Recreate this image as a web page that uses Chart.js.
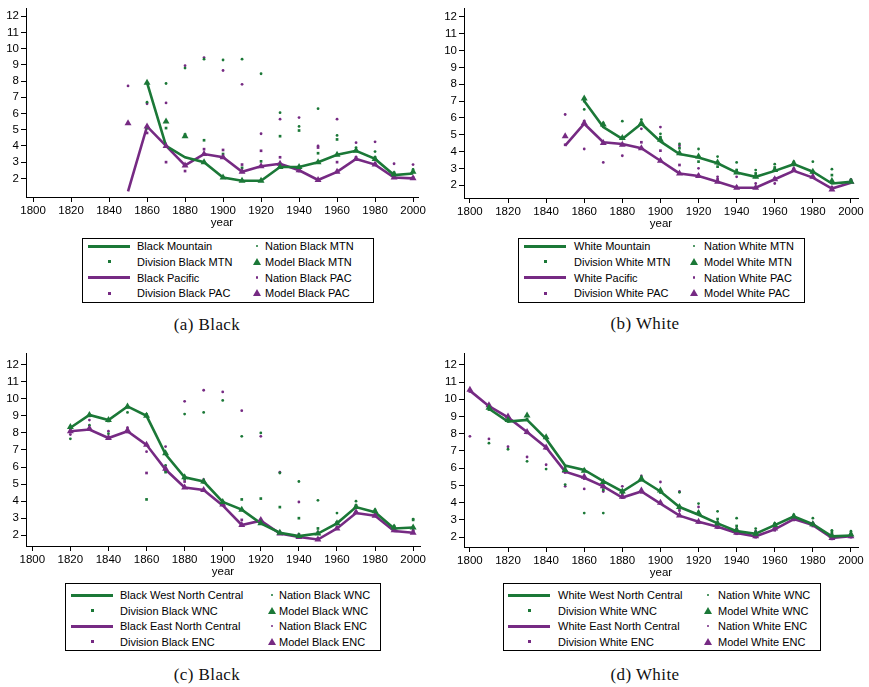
<!DOCTYPE html>
<html>
<head>
<meta charset="utf-8">
<script src="https://cdn.jsdelivr.net/npm/chart.js@4.4.0/dist/chart.umd.min.js"></script>
<style>
body { margin: 0; background: #fff; width: 869px; height: 687px; position: relative; overflow: hidden; font-family: "Liberation Sans", Arial, sans-serif; }
canvas { position: absolute; }
.legend { position: absolute; border: 1px solid #000; box-sizing: border-box; font-size: 11px; color: #000; }
.sym, .txt { position: absolute; }
.txt { white-space: nowrap; line-height: 12px; transform: translateY(-50%); }
.caption { position: absolute; font-family: "Liberation Serif", serif; font-size: 17px; letter-spacing: 0.4px; transform: translate(-50%, -50%); white-space: nowrap; color: #111; }
</style>
</head>
<body>
<script>
const GREEN = '#1b7837';
const PURPLE = '#762a83';
const FONT = '"Liberation Sans", Arial, sans-serif';

const yTicks = [2, 3, 4, 5, 6, 7, 8, 9, 10, 11, 12];
const xTicks = [1800, 1820, 1840, 1860, 1880, 1900, 1920, 1940, 1960, 1980, 2000];

const from1800 = [1800, 1810, 1820, 1830, 1840, 1850, 1860, 1870, 1880, 1890, 1900, 1910, 1920, 1930, 1940, 1950, 1960, 1970, 1980, 1990, 2000];
const from1810 = from1800.slice(1);
const from1820 = from1800.slice(2);
const from1850 = from1800.slice(5);
const from1860 = from1800.slice(6);

// (a) Black, Mountain / Pacific
const aMtnLine = [7.9, 4.0, 3.3, 3.0, 2.05, 1.85, 1.85, 2.7, 2.7, 3.0, 3.45, 3.7, 3.2, 2.2, 2.3];
const aMtnModel = [7.9, 5.5, 4.6, 3.0, 2.05, 1.85, 1.85, 2.7, 2.7, 3.0, 3.45, 3.7, 3.2, 2.25, 2.4];
const aMtnNation = [6.7, 7.85, 8.8, 9.35, 9.3, 9.35, 8.45, 6.05, 5.2, 6.3, 4.65, 3.9, 3.65, 2.3, 2.55];
const aMtnDivision = [5.1, 5.1, 4.7, 4.35, 3.5, 2.65, 3.05, 4.6, 4.95, 3.55, 4.4, 3.75, 3.3, 2.35, 2.4];
const aPacLine = [1.2, 5.2, 4.0, 2.8, 3.5, 3.3, 2.4, 2.75, 2.9, 2.5, 1.9, 2.4, 3.2, 2.85, 2.05, 2.0];
const aPacModel = [5.4, 5.2, 4.0, 2.8, 3.5, 3.3, 2.4, 2.75, 2.9, 2.5, 1.9, 2.4, 3.2, 2.85, 2.05, 2.0];
const aPacNation = [7.7, 6.6, 6.65, 8.95, 9.45, 8.65, 7.8, 4.75, 5.65, 5.75, 4.0, 5.65, 4.2, 4.25, 2.9, 2.85];
const aPacDivision = [4.8, 3.0, 2.45, 3.8, 3.75, 2.85, 3.7, 3.3, 2.45, 3.9, 3.0, 3.3, 2.9, 2.1, 2.05];

// (b) White, Mountain / Pacific
const bMtnLine = [7.0, 5.45, 4.75, 5.65, 4.6, 3.85, 3.65, 3.3, 2.75, 2.5, 2.85, 3.25, 2.8, 2.1, 2.2];
const bMtnModel = [7.15, 5.6, 4.8, 5.7, 4.7, 3.9, 3.7, 3.35, 2.75, 2.5, 2.9, 3.3, 2.8, 2.25, 2.2];
const bMtnNation = [6.5, 5.7, 5.8, 5.9, 5.05, 4.45, 4.15, 3.7, 3.35, 2.9, 3.25, 3.4, 3.4, 2.95, 2.35];
const bMtnDivision = [7.0, 5.5, 4.8, 5.6, 4.85, 4.2, 3.4, 3.1, 2.9, 2.7, 3.05, 3.2, 2.8, 2.6, 2.25];
const bPacLine = [4.35, 5.65, 4.55, 4.45, 4.2, 3.45, 2.7, 2.55, 2.2, 1.85, 1.85, 2.35, 2.85, 2.45, 1.8, 2.15];
const bPacModel = [4.9, 5.7, 4.5, 4.4, 4.2, 3.45, 2.7, 2.55, 2.2, 1.85, 1.85, 2.35, 2.9, 2.5, 1.75, 2.2];
const bPacNation = [6.2, 4.15, 3.35, 3.75, 5.35, 5.45, 4.35, 3.0, 2.5, 2.5, 2.1, 2.1, 3.0, 2.7, 1.9, 2.3];
const bPacDivision = [4.4, 5.8, 4.5, 4.4, 4.55, 4.05, 3.2, 2.6, 2.35, 1.9, 1.85, 2.4, 2.9, 2.5, 1.8, 2.2];

// (c) Black, West North Central / East North Central
const cWncLine = [8.3, 9.05, 8.75, 9.55, 9.0, 6.75, 5.4, 5.15, 3.95, 3.5, 2.7, 2.15, 1.95, 2.1, 2.7, 3.65, 3.35, 2.4, 2.45];
const cWncModel = [8.35, 9.05, 8.75, 9.55, 9.0, 6.8, 5.4, 5.15, 3.95, 3.5, 2.7, 2.15, 1.95, 2.1, 2.7, 3.65, 3.4, 2.45, 2.45];
const cWncNation = [7.65, 8.45, 7.95, 9.2, 9.1, 6.1, 9.1, 9.2, 9.9, 7.8, 8.0, 5.65, 5.15, 4.05, 3.3, 4.0, 3.5, 2.55, 2.95];
const cWncDivision = [8.2, 9.0, 8.7, 9.5, 4.1, 5.7, 5.3, 5.1, 3.9, 4.1, 4.15, 3.65, 3.0, 2.4, 2.75, 3.75, 3.4, 2.45, 2.9];
const cEncLine = [8.1, 8.2, 7.7, 8.1, 7.3, 5.85, 4.8, 4.65, 3.75, 2.6, 2.85, 2.1, 1.9, 1.75, 2.4, 3.3, 3.15, 2.25, 2.15];
const cEncModel = [8.1, 8.25, 7.7, 8.15, 7.3, 5.9, 4.8, 4.65, 3.8, 2.6, 2.9, 2.1, 1.9, 1.75, 2.4, 3.35, 3.15, 2.3, 2.15];
const cEncNation = [7.9, 8.75, 8.1, 8.3, 6.9, 7.2, 9.85, 10.5, 10.4, 9.3, 7.8, 5.7, 3.95, 2.2, 2.75, 3.7, 3.2, 2.4, 2.3];
const cEncDivision = [8.05, 8.2, 7.75, 8.05, 5.65, 5.8, 5.15, 5.25, 3.8, 2.9, 2.9, 2.15, 2.05, 1.8, 2.45, 3.35, 3.2, 2.3, 2.2];

// (d) White, West North Central / East North Central
const dWncLine = [9.45, 8.7, 8.8, 7.7, 6.15, 5.9, 5.25, 4.65, 5.35, 4.65, 3.75, 3.3, 2.8, 2.35, 2.2, 2.7, 3.2, 2.75, 2.05, 2.1];
const dWncModel = [9.5, 8.8, 9.05, 7.8, 5.9, 5.85, 5.2, 4.65, 5.4, 4.7, 3.75, 3.4, 2.8, 2.4, 2.2, 2.7, 3.2, 2.75, 2.1, 2.15];
const dWncNation = [7.45, 7.1, 6.4, 5.95, 5.05, 3.4, 3.4, 4.5, 5.45, 4.6, 4.6, 3.95, 3.5, 3.1, 2.5, 2.8, 3.3, 3.1, 2.4, 2.35];
const dWncDivision = [9.4, 8.75, 8.85, 7.75, 6.1, 5.9, 4.75, 4.6, 5.3, 4.6, 3.7, 3.45, 3.05, 2.65, 2.3, 2.75, 3.2, 2.8, 2.3, 2.2];
const dEncLine = [10.5, 9.6, 8.95, 8.1, 7.2, 5.8, 5.45, 4.95, 4.3, 4.65, 3.95, 3.25, 2.9, 2.6, 2.25, 2.05, 2.45, 3.05, 2.7, 1.95, 2.05];
const dEncModel = [10.55, 9.65, 9.0, 8.1, 7.2, 5.85, 5.5, 4.95, 4.35, 4.7, 4.0, 3.25, 2.9, 2.6, 2.25, 2.05, 2.5, 3.05, 2.75, 1.95, 2.05];
const dEncNation = [7.85, 7.7, 7.25, 6.65, 6.2, 4.95, 4.8, 4.65, 4.95, 5.55, 5.2, 4.65, 3.75, 2.85, 2.5, 2.35, 2.7, 3.1, 2.8, 2.2, 2.2];
const dEncDivision = [10.45, 9.55, 8.9, 8.05, 7.15, 5.75, 5.4, 4.9, 4.3, 4.6, 3.95, 3.55, 2.85, 2.55, 2.2, 2.0, 2.4, 3.0, 2.65, 1.9, 2.0];

const aNames = ['Black Mountain', 'Nation Black MTN', 'Division Black MTN', 'Model Black MTN', 'Black Pacific', 'Nation Black PAC', 'Division Black PAC', 'Model Black PAC'];
const bNames = ['White Mountain', 'Nation White MTN', 'Division White MTN', 'Model White MTN', 'White Pacific', 'Nation White PAC', 'Division White PAC', 'Model White PAC'];
const cNames = ['Black West North Central', 'Nation Black WNC', 'Division Black WNC', 'Model Black WNC', 'Black East North Central', 'Nation Black ENC', 'Division Black ENC', 'Model Black ENC'];
const dNames = ['White West North Central', 'Nation White WNC', 'Division White WNC', 'Model White WNC', 'White East North Central', 'Nation White ENC', 'Division White ENC', 'Model White ENC'];

function pts(years, vals) {
    return vals.map((v, i) => ({ x: years[i], y: v }));
}

function lineSet(years, vals, color) {
    return { data: pts(years, vals), showLine: true, borderColor: color, borderWidth: 2.6, pointRadius: 0, tension: 0, order: 3 };
}

function markSet(years, vals, color, style, radius, order) {
    return { data: pts(years, vals), showLine: false, pointStyle: style, pointRadius: radius,
        backgroundColor: color, borderColor: color, borderWidth: 0, order: order };
}

function group(g, p) {
    return [
        lineSet(g.years, g.line, GREEN),
        markSet(g.years, g.model, GREEN, 'triangle', 4, 1),
        markSet(g.nYears, g.nation, GREEN, 'circle', 1.4, 2),
        markSet(g.dYears, g.division, GREEN, 'rect', 1.9, 2),
        lineSet(p.years, p.line, PURPLE),
        markSet(p.years, p.model, PURPLE, 'triangle', 4, 1),
        markSet(p.nYears, p.nation, PURPLE, 'circle', 1.4, 2),
        markSet(p.dYears, p.division, PURPLE, 'rect', 1.9, 2)
    ];
}

const panels = [
    {
        box: [0, 0, 430, 230], area: [26, 6, 418, 197], x: [1796.3, 2002.6], y: [0.85, 12.45],
        datasets: group(
            { years: from1860, line: aMtnLine, model: aMtnModel, nYears: from1860, nation: aMtnNation, dYears: from1860, division: aMtnDivision },
            { years: from1850, line: aPacLine, model: aPacModel, nYears: from1850, nation: aPacNation, dYears: from1860, division: aPacDivision }),
        names: aNames, caption: '(a) Black', capPos: [207, 325],
        legend: { left: 82, top: 238, w: 292, h: 65, row0: 7, gap: 15.8, s1: [5, 47], t1: 54, s2: 174, t2: 182 }
    },
    {
        box: [435, 0, 434, 231], area: [464, 6, 858, 198], x: [1796.9, 2003.7], y: [1.24, 12.47],
        datasets: group(
            { years: from1860, line: bMtnLine, model: bMtnModel, nYears: from1860, nation: bMtnNation, dYears: from1860, division: bMtnDivision },
            { years: from1850, line: bPacLine, model: bPacModel, nYears: from1850, nation: bPacNation, dYears: from1850, division: bPacDivision }),
        names: bNames, caption: '(b) White', capPos: [645, 324],
        legend: { left: 518, top: 238, w: 287, h: 65, row0: 7, gap: 15.8, s1: [5, 47], t1: 55, s2: 175, t2: 185 }
    },
    {
        box: [0, 345, 430, 234], area: [26, 350, 420, 546], x: [1796.7, 2003.6], y: [1.37, 12.63],
        datasets: group(
            { years: from1820, line: cWncLine, model: cWncModel, nYears: from1820, nation: cWncNation, dYears: from1820, division: cWncDivision },
            { years: from1820, line: cEncLine, model: cEncModel, nYears: from1820, nation: cEncNation, dYears: from1820, division: cEncDivision }),
        names: cNames, caption: '(c) Black', capPos: [207, 675],
        legend: { left: 65, top: 583, w: 316, h: 68, row0: 11, gap: 15.5, s1: [5, 47], t1: 54, s2: 206, t2: 213 }
    },
    {
        box: [435, 345, 434, 235], area: [464, 350, 858, 547], x: [1796.9, 2003.7], y: [1.43, 12.63],
        datasets: group(
            { years: from1810, line: dWncLine, model: dWncModel, nYears: from1810, nation: dWncNation, dYears: from1810, division: dWncDivision },
            { years: from1800, line: dEncLine, model: dEncModel, nYears: from1800, nation: dEncNation, dYears: from1800, division: dEncDivision }),
        names: dNames, caption: '(d) White', capPos: [645, 675],
        legend: { left: 503, top: 583, w: 318, h: 68, row0: 11, gap: 15.5, s1: [4, 46], t1: 54, s2: 204, t2: 214 }
    }
];

function drawPanel(p) {
    const canvas = document.createElement('canvas');
    canvas.width = p.box[2];
    canvas.height = p.box[3];
    canvas.style.left = p.box[0] + 'px';
    canvas.style.top = p.box[1] + 'px';
    document.body.appendChild(canvas);

    const yWidth = p.area[0] - p.box[0];
    const xHeight = p.box[1] + p.box[3] - p.area[3];
    const tickFont = { family: FONT, size: 11.5 };

    new Chart(canvas, {
        type: 'scatter',
        data: { datasets: p.datasets },
        options: {
            responsive: false,
            animation: false,
            events: [],
            layout: { padding: { left: 0, bottom: 0, top: p.area[1] - p.box[1], right: p.box[0] + p.box[2] - p.area[2] } },
            plugins: { legend: { display: false }, tooltip: { enabled: false } },
            scales: {
                x: {
                    type: 'linear', min: p.x[0], max: p.x[1],
                    afterBuildTicks: s => { s.ticks = xTicks.map(v => ({ value: v })); },
                    afterFit: s => { s.height = xHeight; },
                    ticks: { autoSkip: false, maxRotation: 0, color: '#000', font: tickFont, padding: 2, callback: v => String(v) },
                    grid: { drawOnChartArea: false, tickLength: 5, color: '#000' },
                    border: { color: '#000', width: 1 },
                    title: { display: true, text: 'year', color: '#000', font: tickFont, padding: { top: 0, bottom: 0 } }
                },
                y: {
                    type: 'linear', min: p.y[0], max: p.y[1],
                    afterBuildTicks: s => { s.ticks = yTicks.map(v => ({ value: v })); },
                    afterFit: s => { s.width = yWidth; },
                    ticks: { color: '#000', font: tickFont, padding: 2, callback: v => String(v) },
                    grid: { drawOnChartArea: false, tickLength: 5, color: '#000' },
                    border: { color: '#000', width: 1 }
                }
            }
        }
    });

    // legend box
    const L = p.legend;
    const box = document.createElement('div');
    box.className = 'legend';
    Object.assign(box.style, { left: L.left + 'px', top: L.top + 'px', width: L.w + 'px', height: L.h + 'px' });
    document.body.appendChild(box);

    const kinds = ['line', 'circle', 'rect', 'tri'];
    p.names.forEach((name, i) => {
        const color = i < 4 ? GREEN : PURPLE;
        const kind = kinds[i % 4];
        const row = Math.floor(i / 2);
        const col = i % 2;
        const cy = L.row0 + row * L.gap;
        const sym = document.createElement('div');
        sym.className = 'sym';
        const cx = col === 0 ? (L.s1[0] + L.s1[1]) / 2 : L.s2;
        if (kind === 'line') {
            Object.assign(sym.style, { left: L.s1[0] + 'px', top: (cy - 1.5) + 'px', width: (L.s1[1] - L.s1[0]) + 'px', height: '3px', background: color });
        } else if (kind === 'rect') {
            Object.assign(sym.style, { left: (cx - 1.5) + 'px', top: (cy - 1.5) + 'px', width: '3px', height: '3px', background: color });
        } else if (kind === 'circle') {
            Object.assign(sym.style, { left: (cx - 1.3) + 'px', top: (cy - 1.3) + 'px', width: '2.6px', height: '2.6px', borderRadius: '50%', background: color });
        } else {
            Object.assign(sym.style, { left: (cx - 4) + 'px', top: (cy - 4) + 'px', width: 0, height: 0,
                borderLeft: '4px solid transparent', borderRight: '4px solid transparent', borderBottom: '7px solid ' + color });
        }
        box.appendChild(sym);
        const txt = document.createElement('div');
        txt.className = 'txt';
        txt.textContent = name;
        Object.assign(txt.style, { left: (col === 0 ? L.t1 : L.t2) + 'px', top: cy + 'px' });
        box.appendChild(txt);
    });

    const cap = document.createElement('div');
    cap.className = 'caption';
    cap.textContent = p.caption;
    Object.assign(cap.style, { left: p.capPos[0] + 'px', top: p.capPos[1] + 'px' });
    document.body.appendChild(cap);
}

panels.forEach(drawPanel);
</script>
</body>
</html>
